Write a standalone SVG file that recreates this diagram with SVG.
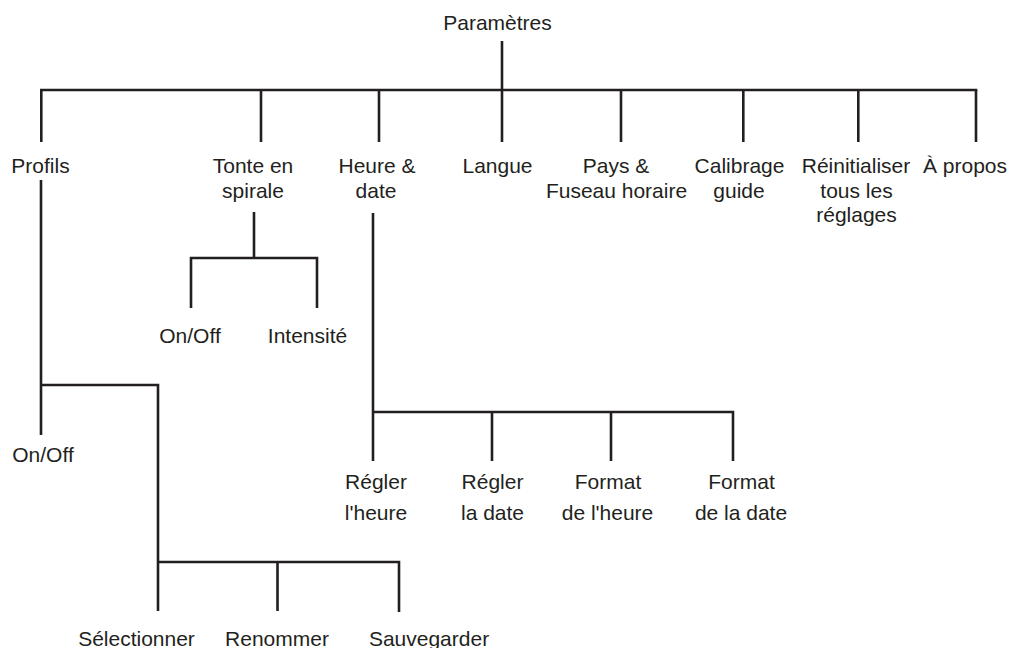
<svg xmlns="http://www.w3.org/2000/svg" width="1016" height="648" viewBox="0 0 1016 648">
<style>
.ln{stroke:#231f20;stroke-width:2.6;fill:none;stroke-linecap:butt}
text{font-family:"Liberation Sans",Arial,sans-serif;font-size:21px;fill:#231f20;text-anchor:middle}
</style>
<rect width="1016" height="648" fill="#ffffff"/>
<g id="connectors" class="ln">
<path d="M502 41V142"/>
<path d="M40 90H977.3"/>
<path d="M41.3 90V142M261 90V142M379 90V142M621 90V142M743.3 90V142M858.3 90V142M976 90V142"/>
<path d="M41 180V435M39.7 385H159.3M158 385V611M156.7 562H400.3M277.5 562V611M399 562V612"/>
<path d="M254 212V258M189.7 258H318.3M191 258V308M317 258V308"/>
<path d="M373 213V461M371.7 412H734.3M492 412V461M611 412V461M733 412V461"/>
</g>
<g id="n-root"><text x="497.5" y="30">Paramètres</text></g>
<g id="n-profils"><text x="40.5" y="173">Profils</text></g>
<g id="n-tonte"><text x="253" y="173">Tonte en</text><text x="253" y="197.5">spirale</text></g>
<g id="n-heure"><text x="377" y="173">Heure &amp;</text><text x="376" y="197.5">date</text></g>
<g id="n-langue"><text x="497.5" y="173">Langue</text></g>
<g id="n-pays"><text x="616" y="173">Pays &amp;</text><text x="616.5" y="197.5">Fuseau horaire</text></g>
<g id="n-calibrage"><text x="739.5" y="173">Calibrage</text><text x="739" y="197.5">guide</text></g>
<g id="n-reinit"><text x="856" y="173">Réinitialiser</text><text x="856.5" y="197.5">tous les</text><text x="856.5" y="222">réglages</text></g>
<g id="n-apropos"><text x="965" y="173">À propos</text></g>
<g id="n-spirale-onoff"><text x="190" y="343">On/Off</text></g>
<g id="n-intensite"><text x="307.5" y="343">Intensité</text></g>
<g id="n-profils-onoff"><text x="43" y="462">On/Off</text></g>
<g id="n-regler-heure"><text x="376" y="488.5">Régler</text><text x="376" y="519.5">l'heure</text></g>
<g id="n-regler-date"><text x="492.5" y="488.5">Régler</text><text x="492.5" y="519.5">la date</text></g>
<g id="n-format-heure"><text x="608" y="488.5">Format</text><text x="607.5" y="519.5">de l'heure</text></g>
<g id="n-format-date"><text x="741.5" y="488.5">Format</text><text x="741" y="519.5">de la date</text></g>
<g id="n-selectionner"><text x="136.5" y="646">Sélectionner</text></g>
<g id="n-renommer"><text x="277" y="646">Renommer</text></g>
<g id="n-sauvegarder"><text x="429" y="646">Sauvegarder</text></g>
</svg>
